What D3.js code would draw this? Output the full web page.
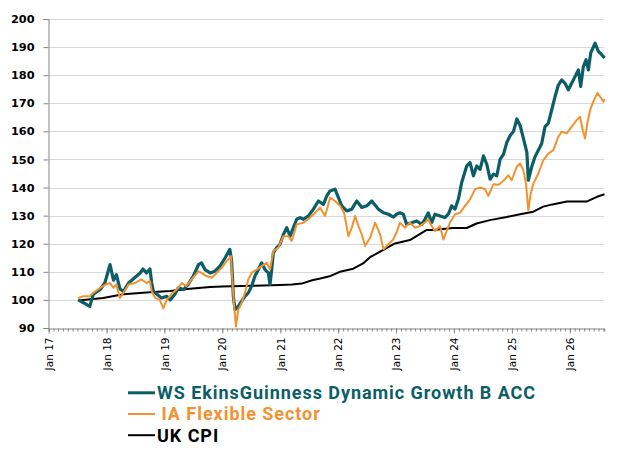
<!DOCTYPE html>
<html>
<head>
<meta charset="utf-8">
<script src="https://cdn.jsdelivr.net/npm/d3@7"></script>
<style>
  body { margin: 0; background: #fff; }
</style>
</head>
<body>
<div id="chart"></div>
<script>
var width = 618;
var height = 453;

// dates are decimal years
var fundT = [2017.51, 2017.60, 2017.71, 2017.77, 2017.89, 2017.97, 2018.06, 2018.12, 2018.17, 2018.23,
  2018.29, 2018.38, 2018.49, 2018.58, 2018.63, 2018.69, 2018.75, 2018.78, 2018.81, 2018.87,
  2018.95, 2019.04, 2019.10, 2019.18, 2019.24, 2019.33, 2019.41, 2019.50, 2019.59, 2019.64,
  2019.70, 2019.79, 2019.87, 2019.96, 2020.05, 2020.13, 2020.16, 2020.175, 2020.19, 2020.22,
  2020.275, 2020.333, 2020.39, 2020.448, 2020.505, 2020.563, 2020.621, 2020.678, 2020.736, 2020.794,
  2020.822, 2020.851, 2020.88, 2020.938, 2020.995, 2021.053, 2021.11, 2021.168, 2021.226, 2021.283,
  2021.341, 2021.399, 2021.485, 2021.572, 2021.658, 2021.745, 2021.802, 2021.86, 2021.946, 2022.004,
  2022.062, 2022.148, 2022.235, 2022.321, 2022.408, 2022.494, 2022.58, 2022.696, 2022.783, 2022.869,
  2022.955, 2023.01, 2023.067, 2023.125, 2023.182, 2023.269, 2023.356, 2023.442, 2023.5, 2023.557,
  2023.615, 2023.672, 2023.759, 2023.845, 2023.903, 2023.961, 2024.018, 2024.076, 2024.134, 2024.22,
  2024.278, 2024.336, 2024.393, 2024.451, 2024.509, 2024.566, 2024.624, 2024.681, 2024.739, 2024.797,
  2024.854, 2024.912, 2024.97, 2025.027, 2025.085, 2025.143, 2025.2, 2025.258, 2025.283, 2025.341,
  2025.399, 2025.456, 2025.514, 2025.572, 2025.629, 2025.687, 2025.745, 2025.802, 2025.86, 2025.917,
  2025.975, 2026.033, 2026.09, 2026.148, 2026.188, 2026.234, 2026.28, 2026.321, 2026.361, 2026.436,
  2026.494, 2026.551, 2026.6];
var fundV = [100, 99, 97.7, 102, 103.7, 106, 112.6, 107, 109, 104,
  103, 106, 108, 109.6, 111, 109.6, 111, 106, 103, 102,
  100.7, 101.3, 100, 102, 104.3, 103.7, 105.5, 108.5, 112.6, 113.2,
  110.8, 109.6, 110.2, 112, 115, 118, 114, 108, 101.3, 96.5,
  97.7, 99.5, 101.3, 102.5, 104.9, 108.5, 110.8, 113.2, 110.8, 109.6,
  105.5, 110.8, 116.8, 118.6, 119.8, 123.3, 125.7, 122.7, 125.7, 128.7,
  129.3, 128.7, 129.9, 132.3, 135.2, 134, 137, 138.8, 139.4, 136.4,
  133.5, 131.7, 132.3, 135.2, 132.9, 133.5, 135.2, 132.3, 131, 130.5,
  129.5, 130.5, 131, 130.5, 126.9, 127.5, 128.1, 126.9, 128.7, 131,
  127.5, 130.5, 129.9, 129.3, 130.5, 133.5, 132.3, 135.8, 141.8, 147.7,
  148.9, 144.2, 147.7, 146.5, 151.3, 148.3, 143, 144.8, 144.2, 150.1,
  151.8, 156.1, 158.5, 160, 164.4, 162, 157.3, 152.5, 142.6, 147.4,
  151, 153.3, 155.7, 161.7, 162.9, 167.6, 172.4, 176.5, 178.3, 177.1,
  174.8, 177.1, 179.5, 181.9, 176, 183.1, 185.5, 181.9, 187.9, 191.4,
  188.5, 187.3, 186.1];

var sectorT = [2017.51, 2017.60, 2017.71, 2017.77, 2017.89, 2017.99, 2018.06, 2018.12, 2018.17, 2018.23,
  2018.29, 2018.38, 2018.49, 2018.60, 2018.69, 2018.75, 2018.78, 2018.84, 2018.92, 2018.98,
  2019.04, 2019.12, 2019.21, 2019.30, 2019.38, 2019.47, 2019.59, 2019.64, 2019.73, 2019.82,
  2019.90, 2019.99, 2020.075, 2020.15, 2020.172, 2020.20, 2020.235, 2020.275, 2020.333, 2020.39,
  2020.448, 2020.505, 2020.592, 2020.678, 2020.765, 2020.822, 2020.88, 2020.966, 2021.053, 2021.139,
  2021.197, 2021.283, 2021.399, 2021.485, 2021.60, 2021.687, 2021.773, 2021.86, 2021.946, 2022.033,
  2022.102, 2022.177, 2022.235, 2022.292, 2022.35, 2022.408, 2022.465, 2022.552, 2022.638, 2022.725,
  2022.783, 2022.869, 2022.952, 2023.01, 2023.067, 2023.154, 2023.24, 2023.327, 2023.413, 2023.50,
  2023.557, 2023.615, 2023.672, 2023.759, 2023.817, 2023.874, 2023.932, 2024.018, 2024.105, 2024.191,
  2024.278, 2024.364, 2024.451, 2024.537, 2024.595, 2024.681, 2024.768, 2024.854, 2024.938, 2024.996,
  2025.082, 2025.14, 2025.197, 2025.243, 2025.283, 2025.324, 2025.37, 2025.456, 2025.543, 2025.629,
  2025.716, 2025.802, 2025.86, 2025.946, 2026.033, 2026.119, 2026.177, 2026.223, 2026.263, 2026.303,
  2026.35, 2026.407, 2026.476, 2026.522, 2026.58, 2026.6];
var sectorV = [100.7, 101.3, 101.3, 102.5, 104.3, 105.5, 106, 104.3, 105.5, 100.7,
  102.5, 105.5, 106, 107.3, 106, 106.7, 103, 100.7, 100, 97,
  100, 102, 103.7, 106, 104.9, 107.3, 110.2, 109.6, 108.5, 107.9,
  109.6, 111.4, 113.8, 115.6, 107.3, 98.9, 90.5, 96.5, 98.9, 102.5,
  107.3, 109.6, 110.8, 112, 113.2, 110.8, 117.4, 118.6, 122.7, 122.7,
  121, 126.9, 127.5, 128.7, 131, 132.9, 129.9, 136.4, 135.2, 133.5,
  131, 122.7, 125.7, 129.9, 126.3, 123.3, 119.2, 122.1, 127.5, 123.3,
  118, 119.8, 121.5, 124, 127.5, 125.7, 127.5, 125.7, 126.3, 127.5,
  128.7, 126.3, 124.5, 126.3, 121.5, 124.5, 127.5, 130.5, 131, 133.5,
  135.8, 139.4, 140, 139.4, 137, 141.2, 141, 142.4, 144.4, 142.6,
  147.4, 148.6, 146.2, 141.4, 131.9, 137.9, 141.4, 145, 149.8, 152.1,
  153.3, 158.1, 159.9, 159.3, 161.7, 164, 165.2, 160.5, 157.5, 162.9,
  167.6, 170.6, 173.6, 172.4, 170.6, 171.5];

var cpiT = [2017.51, 2017.94, 2018.29, 2018.75, 2019.10, 2019.44, 2019.79, 2020.00, 2020.50, 2021.00,
  2021.20, 2021.37, 2021.55, 2021.69, 2021.85, 2022.03, 2022.26, 2022.43, 2022.55, 2022.78,
  2022.98, 2023.24, 2023.53, 2023.64, 2023.98, 2024.22, 2024.39, 2024.62, 2024.91, 2025.14,
  2025.37, 2025.54, 2025.70, 2025.95, 2026.29, 2026.47, 2026.6];
var cpiV = [99.8, 100.7, 102, 102.7, 103.2, 104, 104.6, 104.8, 105, 105.3,
  105.5, 105.8, 107, 107.6, 108.4, 110, 111.1, 113, 115.2, 117.8,
  120.1, 121.3, 124.9, 124.9, 125.6, 125.6, 127.2, 128.4, 129.5, 130.5,
  131.4, 133.2, 134, 135, 135, 136.7, 137.6];

var yTicks = [90, 100, 110, 120, 130, 140, 150, 160, 170, 180, 190, 200];
var seriesNames = ['WS EkinsGuinness Dynamic Growth B ACC', 'IA Flexible Sector', 'UK CPI'];
var seriesColors = ['#0b5e67', '#f39130', '#000000'];

function toDate(t) {
  var y = Math.floor(t);
  var start = new Date(y, 0, 1), next = new Date(y + 1, 0, 1);
  return new Date(+start + (t - y) * (next - start));
}

var svg = d3.select('#chart').append('svg').attr('width', width).attr('height', height);

var x = d3.scaleTime().domain([new Date(2017, 0, 1), toDate(2026.596)]).range([48.7, 604.3]);
var y = d3.scaleLinear().domain([90, 200]).range([328, 19]);

// gridlines
svg.append('g').selectAll('line').data(yTicks.slice(1)).enter().append('line')
  .attr('x1', 48.7).attr('x2', 604.3)
  .attr('y1', function(d){ return Math.round(y(d)) + 0.5; })
  .attr('y2', function(d){ return Math.round(y(d)) + 0.5; })
  .attr('stroke', '#d9d9d9').attr('stroke-width', 1);

// y axis
var yAxis = svg.append('g').attr('transform', 'translate(48.5,0)')
  .call(d3.axisLeft(y).tickValues(yTicks).tickSize(5).tickPadding(9));
yAxis.selectAll('path, line').attr('stroke', '#868686');
yAxis.selectAll('text').attr('font-family', 'DejaVu Sans').attr('font-weight', 'bold')
  .attr('font-size', '11.3px').attr('fill', '#000');

// x axis: monthly minor ticks, yearly labels
var xg = svg.append('g').attr('transform', 'translate(0,328.5)');
xg.call(d3.axisBottom(x).ticks(d3.timeMonth.every(1)).tickSize(3).tickFormat(''));
xg.selectAll('path, line').attr('stroke', '#868686');
var xMajor = svg.append('g').attr('transform', 'translate(0,328.5)')
  .call(d3.axisBottom(x).ticks(d3.timeYear.every(1)).tickSize(5).tickFormat(d3.timeFormat('%b %y')));
xMajor.select('.domain').remove();
xMajor.selectAll('line').attr('stroke', '#868686');
xMajor.selectAll('text')
  .attr('font-family', 'DejaVu Sans').attr('font-size', '10.5px').attr('fill', '#000')
  .attr('text-anchor', 'end')
  .attr('transform', 'rotate(-90)')
  .attr('x', -9).attr('y', 0).attr('dy', '0.35em');

var line = d3.line()
  .x(function(d){ return x(toDate(d[0])); })
  .y(function(d){ return y(d[1]); });

function pairs(t, v) { return t.map(function(d, i){ return [d, v[i]]; }); }

svg.append('path').datum(pairs(cpiT, cpiV))
  .attr('fill', 'none').attr('stroke', seriesColors[2]).attr('stroke-width', 2)
  .attr('stroke-linejoin', 'round').attr('d', line);
svg.append('path').datum(pairs(fundT, fundV))
  .attr('fill', 'none').attr('stroke', seriesColors[0]).attr('stroke-width', 3.2)
  .attr('stroke-linejoin', 'round').attr('d', line);
svg.append('path').datum(pairs(sectorT, sectorV))
  .attr('fill', 'none').attr('stroke', seriesColors[1]).attr('stroke-width', 2)
  .attr('stroke-linejoin', 'round').attr('d', line);

// legend
var legendY = [392.8, 414, 435.2];
var legend = svg.append('g');
seriesNames.forEach(function(name, i){
  legend.append('line')
    .attr('x1', 128).attr('x2', 155)
    .attr('y1', legendY[i]).attr('y2', legendY[i])
    .attr('stroke', seriesColors[i]).attr('stroke-width', i == 0 ? 3 : 2);
  legend.append('text')
    .attr('x', i == 1 ? 161.5 : 157).attr('y', legendY[i] + 6.4)
    .attr('font-family', 'Roboto').attr('font-weight', 'bold').attr('font-size', '18px')
    .attr('letter-spacing', '0.95px')
    .attr('fill', seriesColors[i])
    .text(name);
});
</script>
</body>
</html>
